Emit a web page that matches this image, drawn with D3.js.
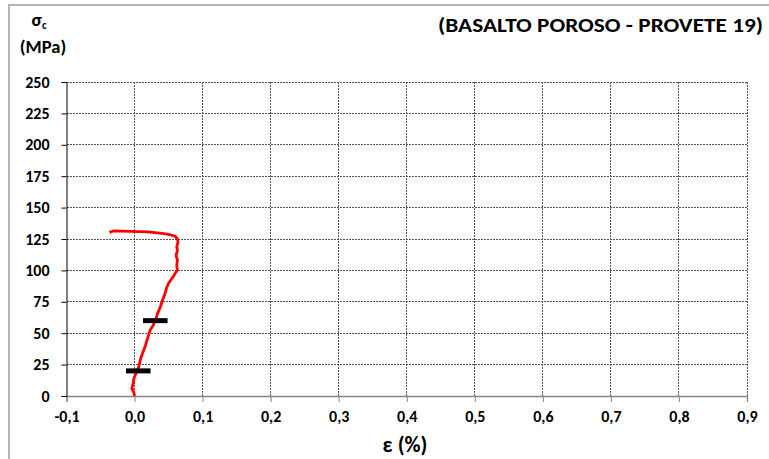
<!DOCTYPE html>
<html><head><meta charset="utf-8">
<script src="https://cdn.jsdelivr.net/npm/d3@7"></script>
<style>body{margin:0;background:#fff}svg{display:block}text{font-family:Carlito,"Open Sans",Arial,sans-serif;font-weight:bold;fill:#000}</style>
</head><body><svg id="c" width="769" height="459"></svg>
<script>
const xTicks = [-0.1,0,0.1,0.2,0.3,0.4,0.5,0.6,0.7,0.8,0.9];
const yTicks = [0,25,50,75,100,125,150,175,200,225,250];
const strain = [0.000,-0.001,-0.004,-0.002,-0.001,0.002,0.006,0.009,0.0135,0.016,0.018,0.023,0.027,0.031,0.034,0.038,0.041,0.043,0.045,0.047,0.050,0.054,0.057,0.060,0.063,0.062,0.063,0.061,0.063,0.062,0.064,0.063,0.060,0.055,0.050,0.040,0.030,0.018,0.005,-0.006,-0.020,-0.031,-0.037];
const stress = [0,3,6,10,14,18,23,30,36.6,40,44,52.5,56,60.5,66,71,76,79,81.8,86,89.7,93,95,98,100.3,104,108,112,116,119,122.8,125,127,128,128.7,129.5,130,130.6,130.8,131,131.2,131.4,130.3];
const barStress = [20,60];
const barFrom = [-0.0125,0.0125];
const barTo = [0.0235,0.0485];

const svg = d3.select("#c");
const x = d3.scaleLinear().domain([-0.1,0.9]).range([66.5,747]);
const y = d3.scaleLinear().domain([0,250]).range([396,82]);
const fmt = d => d3.format(".1f")(d).replace(".",",").replace("−","-");
const FF = 'Carlito,"Open Sans",Arial,sans-serif';

svg.append("path").attr("d","M9,459V5H769").attr("fill","none").attr("stroke","#b5b5b5").attr("stroke-width",2);

const g = svg.append("g");
g.selectAll("line.vg").data(xTicks.slice(1)).join("line")
  .attr("x1",d=>x(d)).attr("x2",d=>x(d)).attr("y1",y(250)).attr("y2",y(0))
  .attr("stroke","#555").attr("stroke-width",1).attr("stroke-dasharray","2,1").attr("shape-rendering","crispEdges");
g.selectAll("line.hg").data(yTicks.slice(1)).join("line")
  .attr("y1",d=>y(d)).attr("y2",d=>y(d)).attr("x1",x(-0.1)).attr("x2",x(0.9))
  .attr("stroke","#555").attr("stroke-width",1).attr("stroke-dasharray","2,1").attr("shape-rendering","crispEdges");

const xa = svg.append("g").attr("transform",`translate(0,${y(0)})`)
  .call(d3.axisBottom(x).tickValues(xTicks).tickFormat(fmt).tickSize(6).tickPadding(9));
xa.select(".domain").attr("stroke","#868686").attr("stroke-width",1.3);
xa.selectAll(".tick line").attr("stroke","#868686");
xa.selectAll("text").attr("font-size",16).attr("font-family",FF).attr("font-weight","bold");

const ya = svg.append("g").attr("transform",`translate(${x(-0.1)},0)`)
  .call(d3.axisLeft(y).tickValues(yTicks).tickSize(5).tickPadding(12));
ya.select(".domain").attr("stroke","#000").attr("stroke-width",1);
ya.selectAll(".tick line").attr("stroke","#000");
ya.selectAll("text").attr("font-size",16).attr("font-family",FF).attr("font-weight","bold");

const pts = strain.map((s,i)=>[s,stress[i]]);
svg.append("path").datum(pts)
  .attr("d",d3.line().x(d=>x(d[0])).y(d=>y(d[1])))
  .attr("fill","none").attr("stroke","#ff0000").attr("stroke-width",2.8).attr("stroke-linejoin","round");

svg.selectAll("line.bar").data(barStress).join("line")
  .attr("x1",(d,i)=>x(barFrom[i])).attr("x2",(d,i)=>x(barTo[i]))
  .attr("y1",d=>y(d)).attr("y2",d=>y(d))
  .attr("stroke","#000").attr("stroke-width",5);

svg.append("text").attr("x",763).attr("y",32).attr("text-anchor","end").attr("font-size",21)
  .attr("textLength",325).attr("lengthAdjust","spacingAndGlyphs").text("(BASALTO POROSO - PROVETE 19)");
const yl = svg.append("text").attr("x",39).attr("y",26).attr("text-anchor","middle").attr("font-size",19);
yl.append("tspan").text("σ");
yl.append("tspan").attr("font-size",11).attr("dy",3).text("c");
svg.append("text").attr("x",43).attr("y",53).attr("text-anchor","middle").attr("font-size",18.5).text("(MPa)");
svg.append("text").attr("x",405).attr("y",452).attr("text-anchor","middle").attr("font-size",22).text("ε (%)");
</script></body></html>
